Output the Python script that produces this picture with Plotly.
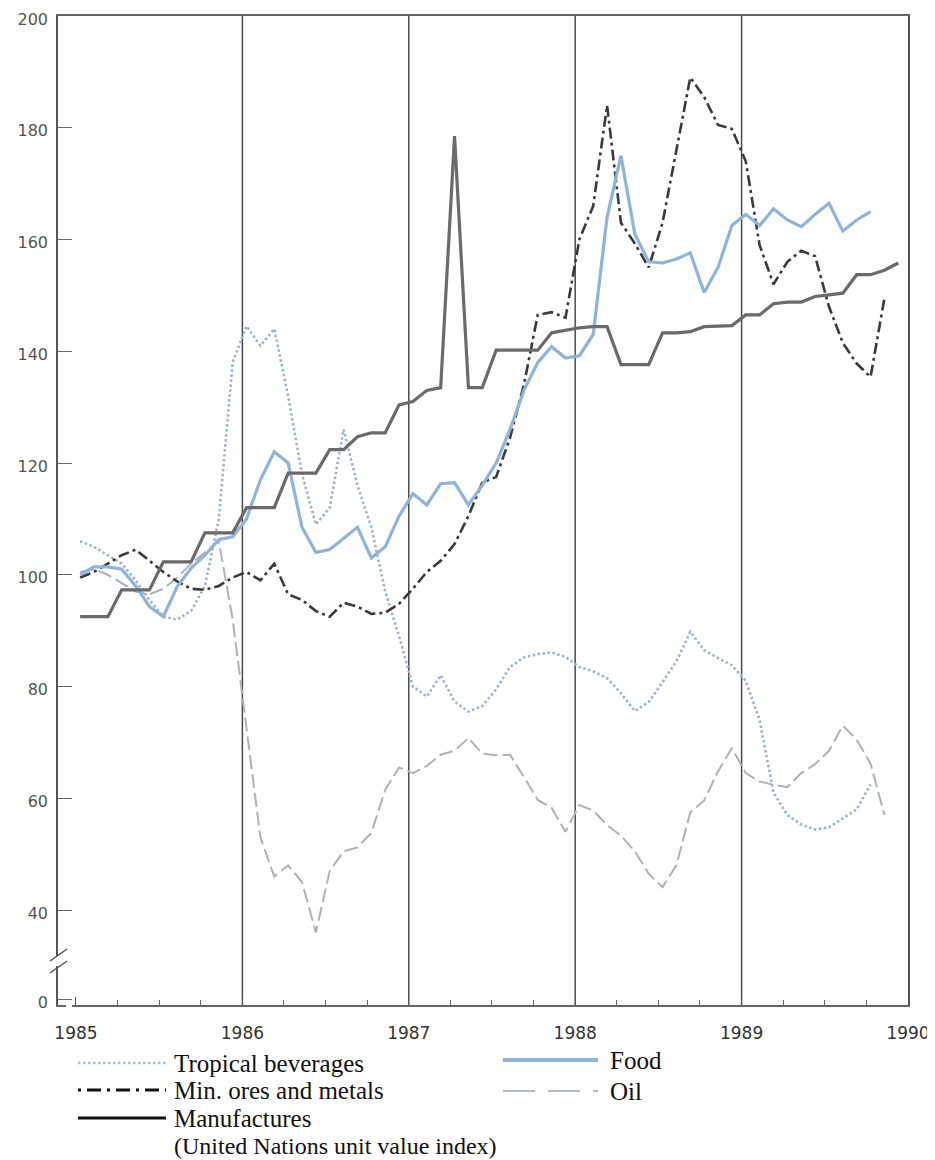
import plotly.graph_objects as go

# ---------------- data (monthly index values, 1985-1989) ----------------
years = [1985, 1986, 1987, 1988, 1989]
month_labels = [f"{y}-{m:02d}" for y in years for m in range(1, 13)]

tropical = [106, 105, 103.5, 102, 99, 95.5, 92.5, 92, 93.5, 98, 110, 138,
            144.5, 141, 144, 132, 118, 109, 112, 126, 116, 108.5, 97, 89,
            80, 78.2, 82, 77.3, 75.5, 76.5, 79.5, 83.5, 85.2, 85.8, 86.1, 85.3,
            83.5, 82.7, 81.5, 78.8, 75.6, 77.2, 80.8, 84.5, 89.8, 86.5, 85.1, 83.8,
            81, 74, 61, 57, 55.3, 54.4, 54.8, 56.4, 58, 62.5, None, None]

food = [100, 101.4, 101.4, 101, 98, 94.3, 92.5, 97.9, 101.2, 103.5, 106.3, 106.8,
        110, 117, 122, 120, 108.5, 104, 104.5, 106.5, 108.5, 103, 105, 110.5,
        114.5, 112.5, 116.3, 116.5, 112.5, 116, 120, 126, 133, 138, 140.8, 138.8,
        139.2, 143, 164, 175, 161, 156, 155.8, 156.5, 157.6, 150.5, 155, 162.5,
        164.5, 162.5, 165.5, 163.5, 162.3, 164.5, 166.5, 161.5, 163.5, 165, None, None]

ores = [99.5, 100.5, 102, 103.5, 104.5, 102.5, 100.5, 98.8, 97.5, 97.3, 98, 99.5,
        100.5, 99, 102, 96.5, 95.5, 93.5, 92.5, 95, 94.3, 93, 93.2, 94.8,
        97.5, 100.5, 102.5, 105.5, 110.5, 116.5, 117.5, 124.5, 134, 146.5, 147, 146,
        160, 166, 184, 163, 159.3, 155, 163, 176, 189, 185.5, 180.5, 179.8,
        174, 159, 152, 156, 158, 157, 148, 141.5, 137.8, 135.4, 149.5, None]

manufactures = [92.5, 92.5, 92.5, 97.3, 97.3, 97.3, 102.3, 102.3, 102.3, 107.5, 107.5, 107.5,
                112, 112, 112, 118.2, 118.2, 118.2, 122.4, 122.4, 124.7, 125.4, 125.4, 130.4,
                131, 133, 133.5, 178.5, 133.5, 133.5, 140.2, 140.2, 140.2, 140.2, 143.3, 143.8,
                144.2, 144.4, 144.4, 137.6, 137.6, 137.6, 143.3, 143.3, 143.5, 144.4, 144.5, 144.6,
                146.5, 146.5, 148.5, 148.8, 148.8, 149.8, 150.1, 150.4, 153.7, 153.7, 154.5, 155.8]

oil = [100.5, 101, 100, 98.5, 97, 96.5, 97.5, 99.5, 102, 104, 106, 92,
       72, 53, 46, 48, 45, 36, 47, 50.5, 51.2, 53.8, 61.5, 65.5,
       64.5, 65.8, 67.8, 68.5, 70.8, 68, 67.7, 67.8, 63.8, 59.7, 58.3, 54,
       58.8, 57.8, 55.2, 53.3, 50.5, 46.5, 44.1, 48, 57.5, 59.6, 64.8, 69,
       64.5, 63, 62.4, 62, 64.5, 66.1, 68.5, 73, 70.5, 66.2, 57, None]

y_tick_vals = [24, 40, 60, 80, 100, 120, 140, 160, 180, 200]   # lowest tick sits on the broken axis
y_tick_text = ["0", "40", "60", "80", "100", "120", "140", "160", "180", "200"]
x_tick_years = [1985, 1986, 1987, 1988, 1989, 1990]

# month position: a little after the start of each month
x_months = [int(s[:4]) + (int(s[5:]) - 1 + 0.3) / 12 for s in month_labels]

# ---------------- styles ----------------
C_TROP = "#9db4cc"
C_FOOD = "#8fb3d9"
C_ORES = "#3a3a3a"
C_MANU = "#6a6a6a"
C_OIL = "#aab3bb"

fig = go.Figure()
fig.add_trace(go.Scatter(x=x_months, y=oil, mode="lines", name="Oil",
                         line=dict(color=C_OIL, width=2, dash="14px,5px")))
fig.add_trace(go.Scatter(x=x_months, y=tropical, mode="lines", name="Tropical beverages",
                         line=dict(color=C_TROP, width=2.6, dash="2.5px,2.5px")))
fig.add_trace(go.Scatter(x=x_months, y=ores, mode="lines", name="Min. ores and metals",
                         line=dict(color=C_ORES, width=2.6, dash="11px,4px,3px,4px")))
fig.add_trace(go.Scatter(x=x_months, y=food, mode="lines", name="Food",
                         line=dict(color=C_FOOD, width=3.2)))
fig.add_trace(go.Scatter(x=x_months, y=manufactures, mode="lines", name="Manufactures",
                         line=dict(color=C_MANU, width=3.2)))

# ---------------- layout geometry ----------------
# the page body has an 8px margin, so the figure is 8px smaller and sits 8px in
OFF = 8
W, H = 935 - OFF, 1160 - OFF
PL, PR, PT, PB = 58, 908, 16, 1005          # plot area in page pixels
L, T = PL - OFF, PT - OFF
R, B = W - (PR - OFF), H - (PB - OFF)


def xp(px):
    return (px - PL) / (PR - PL)


def yp(py):
    return (PB - py) / (PB - PT)


shapes = []
# vertical year separators
for yr in x_tick_years[1:-1]:
    shapes.append(dict(type="line", xref="x", yref="paper", x0=yr, x1=yr, y0=0, y1=1,
                       line=dict(color="#4a4a4a", width=1.5), layer="below"))

# axis break on the y axis
shapes.append(dict(type="rect", xref="paper", yref="paper", x0=xp(55), x1=xp(62),
                   y0=yp(966), y1=yp(956), fillcolor="white", line=dict(width=0), layer="above"))
for cy in (955, 967):
    shapes.append(dict(type="line", xref="paper", yref="paper", x0=xp(50), x1=xp(67),
                       y0=yp(cy + 6), y1=yp(cy - 6), line=dict(color="#555", width=1.5), layer="above"))
# gap between y-axis foot and x axis
shapes.append(dict(type="rect", xref="paper", yref="paper", x0=xp(66), x1=xp(72),
                   y0=yp(1007), y1=yp(1003), fillcolor="white", line=dict(width=0), layer="above"))

annotations = []
SERIF = "Liberation Serif, Times New Roman, serif"
legend_rows = [
    # (text, x_line0, x_line1, y, color, width, dash, text_x)
    ("Tropical beverages", 78, 168, 1063, "#a9bdd3", 2.6, "2.5px,2.5px", 172),
    ("Min. ores and metals", 78, 166, 1090, "#111111", 3, "3px,6px,14px,6px", 172),
    ("Manufactures", 78, 166, 1118, "#111111", 3.2, None, 172),
    ("Food", 503, 598, 1060, C_FOOD, 3.8, None, 608),
    ("Oil", 503, 598, 1091, "#b3bcc4", 2, "32px,13px", 608),
]
for text, lx0, lx1, ly, col, wid, dash, tx in legend_rows:
    ln = dict(color=col, width=wid)
    if dash:
        ln["dash"] = dash
    shapes.append(dict(type="line", xref="paper", yref="paper", x0=xp(lx0), x1=xp(lx1),
                       y0=yp(ly), y1=yp(ly), line=ln))
    annotations.append(dict(text=text, xref="paper", yref="paper", x=xp(tx), y=yp(ly),
                            xanchor="left", yanchor="middle", showarrow=False,
                            font=dict(family=SERIF, size=25, color="#111")))
annotations.append(dict(text="(United Nations unit value index)", xref="paper", yref="paper",
                        x=xp(172), y=yp(1146), xanchor="left", yanchor="middle", showarrow=False,
                        font=dict(family=SERIF, size=24, color="#111")))

fig.update_layout(
    width=W, height=H,
    margin=dict(l=L, r=R, t=T, b=B, pad=0, autoexpand=False),
    paper_bgcolor="white", plot_bgcolor="white",
    showlegend=False,
    shapes=shapes, annotations=annotations,
    xaxis=dict(range=[1984.892, 1990.0], tickmode="array", tickvals=x_tick_years,
               ticktext=[str(v) for v in x_tick_years],
               ticks="inside", ticklen=8, tickwidth=1.3, tickcolor="#555",
               minor=dict(dtick=0.25, tick0=1985, ticks="inside", ticklen=5,
                          tickwidth=1.2, tickcolor="#666", showgrid=False),
               showgrid=False, zeroline=False,
               showline=True, linecolor="#666", linewidth=1.5, mirror=True,
               ticklabelstandoff=12, ticklabeloverflow="allow",
               tickfont=dict(family="DejaVu Sans", size=17, color="#333")),
    yaxis=dict(range=[23.0, 200], tickmode="array", tickvals=y_tick_vals, ticktext=y_tick_text,
               ticks="inside", ticklen=14, tickwidth=1.3, tickcolor="#666",
               showgrid=False, zeroline=False,
               showline=True, linecolor="#555", linewidth=1.5, mirror=True,
               ticklabelstandoff=5, ticklabeloverflow="allow", ticklabelshift=3,
               tickfont=dict(family="DejaVu Sans", size=16, color="#555")),
)

fig.write_html("out.html")
